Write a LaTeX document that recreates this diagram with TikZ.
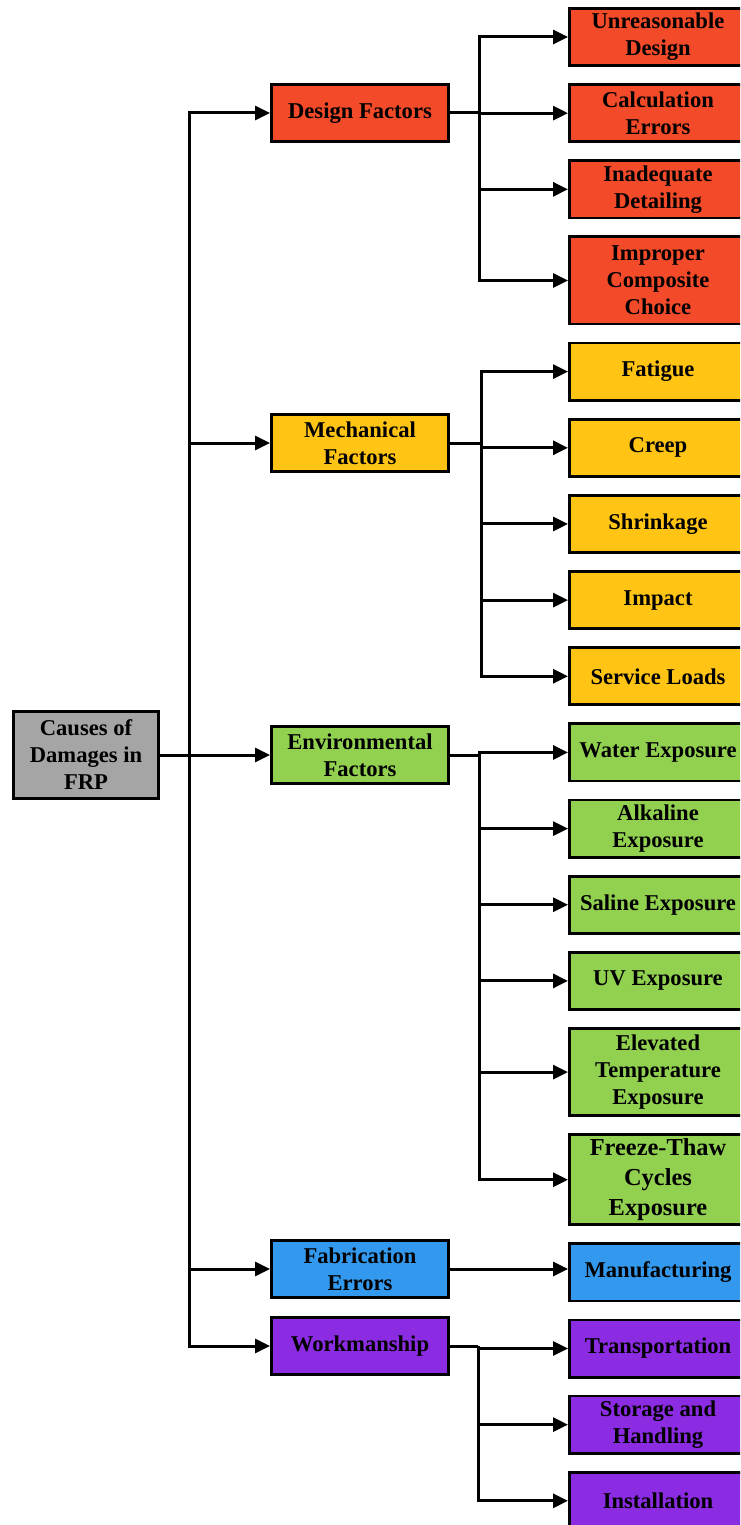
\documentclass[tikz,border=0pt]{standalone}
\usepackage{fontspec}
\setmainfont{Liberation Serif}
\usetikzlibrary{arrows.meta,positioning}

\definecolor{causegray}{HTML}{A5A5A5}
\definecolor{designred}{HTML}{F34A29}
\definecolor{mechyellow}{HTML}{FFC414}
\definecolor{envgreen}{HTML}{92D050}
\definecolor{fabblue}{HTML}{3399EE}
\definecolor{workpurple}{HTML}{8B2BE2}

\begin{document}
\begin{tikzpicture}[
    x=0.5pt, y=-0.5pt,
    node distance=8.08pt,
    box/.style={
        rectangle,
        draw=black,
        line width=1.4pt,
        minimum width=88.6pt,
        minimum height=28.6pt,
        inner sep=2pt,
        align=center,
        font=\fontsize{11.3}{13.5}\selectfont\bfseries
    },
    tallbox/.style={box, minimum height=43.6pt},
    bigtext/.style={font=\fontsize{12.2}{15}\selectfont\bfseries},
    link/.style={line width=1.5pt},
    arrow/.style={link, -{Triangle[length=7.5pt,width=7pt]}}
]
\useasboundingbox (0,0) rectangle (740,1525);
\clip (0,0) rectangle (740,1525);

% =========================================
% Root
% =========================================
\node[tallbox, fill=causegray, minimum width=72.6pt] (root) at (86,755)
    {Causes of\\Damages in\\FRP};

% =========================================
% Main groups
% =========================================
\node[box, fill=designred]  (design) at (360,113)  {Design Factors};
\node[box, fill=mechyellow] (mech)   at (360,443)  {Mechanical\\Factors};
\node[box, fill=envgreen]   (env)    at (360,755)  {Environmental\\Factors};
\node[box, fill=fabblue]    (fab)    at (360,1269) {Fabrication\\Errors};
\node[box, fill=workpurple] (work)   at (360,1346) {Workmanship};

% =========================================
% Single causes (one column, top to bottom)
% =========================================
\node[box, fill=designred] (d1) at (658,37) {Unreasonable\\Design};
\node[box, fill=designred, below=of d1] (d2) {Calculation\\Errors};
\node[box, fill=designred, below=of d2] (d3) {Inadequate\\Detailing};
\node[tallbox, fill=designred, below=of d3] (d4) {Improper\\Composite\\Choice};

\node[box, fill=mechyellow, below=of d4] (m1) {Fatigue};
\node[box, fill=mechyellow, below=of m1] (m2) {Creep};
\node[box, fill=mechyellow, below=of m2] (m3) {Shrinkage};
\node[box, fill=mechyellow, below=of m3] (m4) {Impact};
\node[box, fill=mechyellow, below=of m4] (m5) {Service Loads};

\node[box, fill=envgreen, below=of m5] (e1) {Water Exposure};
\node[box, fill=envgreen, below=of e1] (e2) {Alkaline\\Exposure};
\node[box, fill=envgreen, below=of e2] (e3) {Saline Exposure};
\node[box, fill=envgreen, below=of e3] (e4) {UV Exposure};
\node[tallbox, fill=envgreen, below=of e4] (e5) {Elevated\\Temperature\\Exposure};
\node[tallbox, bigtext, fill=envgreen, below=of e5] (e6) {Freeze-Thaw\\Cycles\\Exposure};

\node[box, fill=fabblue, below=of e6] (f1) {Manufacturing};

\node[box, fill=workpurple, below=of f1] (w1) {Transportation};
\node[box, fill=workpurple, below=of w1] (w2) {Storage and\\Handling};
\node[box, fill=workpurple, below=of w2] (w3) {Installation};

% =========================================
% Connectors
% =========================================
% Trunk from the root
\coordinate (trunk) at (189,755);
\draw[arrow] (root.east) -- (env.west);
\foreach \g in {design,mech,fab,work}
    \draw[arrow] (trunk) |- (\g.west);

% Branches to single causes
\draw[link] (design.east) -- ++(29,0) coordinate (dbranch);
\foreach \c in {d1,d2,d3,d4}
    \draw[arrow] (dbranch) |- (\c.west);

\draw[link] (mech.east) -- ++(31,0) coordinate (mbranch);
\foreach \c in {m1,m2,m3,m4,m5}
    \draw[arrow] (mbranch) |- (\c.west);

\draw[link] (env.east) -- ++(29,0) coordinate (ebranch);
\foreach \c in {e1,e2,e3,e4,e5,e6}
    \draw[arrow] (ebranch) |- (\c.west);

\draw[arrow] (fab.east) -- (fab.east -| f1.west);

\draw[link] (work.east) -- ++(28,0) coordinate (wbranch);
\foreach \c in {w1,w2,w3}
    \draw[arrow] (wbranch) |- (\c.west);

\end{tikzpicture}
\end{document}
